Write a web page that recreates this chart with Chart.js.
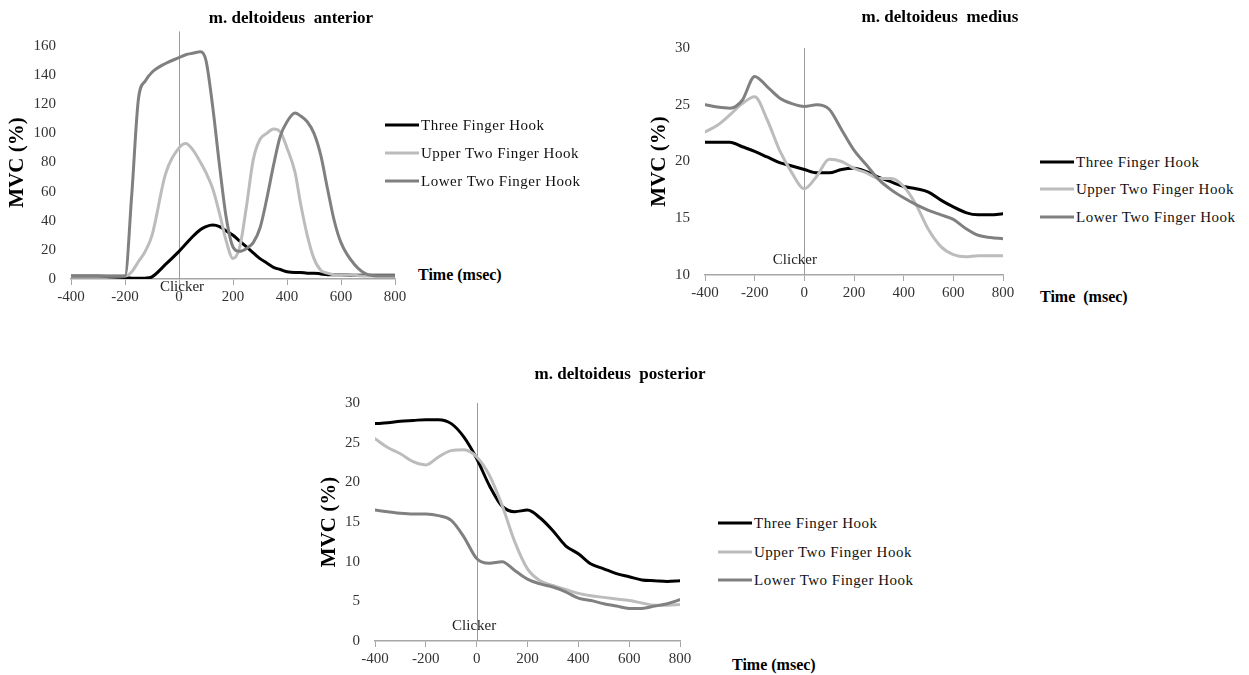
<!DOCTYPE html>
<html><head><meta charset="utf-8">
<script src="https://cdn.jsdelivr.net/npm/chart.js@4.4.1/dist/chart.umd.min.js"></script>
<style>
html,body{margin:0;padding:0;background:#fff;}
body{width:1249px;height:675px;position:relative;overflow:hidden;font-family:"Liberation Serif","Times New Roman",serif;color:#000;}
canvas{position:absolute;}
.title{position:absolute;font-weight:bold;font-size:17px;transform:translate(-50%,-50%);white-space:pre;}
.row{position:absolute;display:flex;align-items:center;white-space:nowrap;transform:translateY(-50%);font-size:15px;letter-spacing:0.5px;color:#111;}
.sw{width:34px;height:3px;margin-right:2px;}
.xt{position:absolute;font-weight:bold;font-size:16px;transform:translateY(-50%);white-space:pre;}
</style></head><body>
<canvas id="cA" width="410" height="310" style="left:0px;top:0px"></canvas>
<canvas id="cB" width="380" height="310" style="left:640px;top:0px"></canvas>
<canvas id="cC" width="390" height="315" style="left:310px;top:360px"></canvas>
<div id="overlay"></div>
<script>
// ---------- data ----------
const seriesNames = ['Three Finger Hook', 'Upper Two Finger Hook', 'Lower Two Finger Hook'];
const chartTitles = ['m. deltoideus  anterior', 'm. deltoideus  medius', 'm. deltoideus  posterior'];
const xAxisLabels = ['Time (msec)', 'Time  (msec)', 'Time (msec)'];
const yAxisLabel = 'MVC (%)';
const markerLabel = 'Clicker';

// m. deltoideus anterior
const antTime  = [-400,-300,-250,-200,-175,-150,-125,-100,-50,0,25,50,80,100,125,150,175,200,225,250,275,300,325,350,375,400,430,450,475,500,525,550,575,600,650,700,750,800];
const antThree = [2,2,1.5,1,0.6,0.5,0.6,1.5,10,19,24,29,34,36,37,36,33,30,26,22,18,14,11,8,6.5,5,4.5,4.5,4,4,3.5,3,3,3,2.5,2.5,2.5,2.5];
const antUpper = [2,2,2,2,5,12,19,30,72,90,93,89,80,73,62,45,26,14,22,50,82,96,100,103,101,90,73,52,30,14,6,4,3,3,2.5,2,2,2];
const antLower = [2,2,2,2,58,124,136,142,148,152,154,155,156,150,118,78,42,22,19,21,25,35,55,78,98,108,114,112,108,100,85,62,40,25,10,3,2,2];

// m. deltoideus medius
const medTime  = [-400,-350,-300,-250,-200,-150,-100,-50,0,50,100,150,200,250,300,350,400,450,500,550,600,650,700,750,800];
const medThree = [21.7,21.7,21.7,21.3,20.9,20.4,19.9,19.6,19.3,19.0,19.0,19.3,19.4,19.1,18.6,18.2,17.8,17.6,17.3,16.6,16.0,15.5,15.3,15.3,15.4];
const medUpper = [22.6,23.2,24.1,25.1,25.7,23.7,21.0,19.0,17.6,18.7,20.2,20.0,19.4,19.0,18.5,18.5,17.8,16.2,14.0,12.5,11.8,11.6,11.7,11.7,11.7];
const medLower = [25.0,24.8,24.7,25.4,27.5,26.6,25.6,25.1,24.85,25.0,24.6,22.8,21.0,19.7,18.4,17.5,16.8,16.2,15.7,15.3,14.9,14.1,13.5,13.3,13.2];

// m. deltoideus posterior
const posTime  = [-400,-350,-300,-250,-200,-150,-100,-50,0,50,100,150,200,250,300,350,400,450,500,550,600,650,700,750,800];
const posThree = [27.4,27.5,27.7,27.8,27.9,27.9,27.4,25.7,23.0,19.6,17.0,16.3,16.5,15.5,13.9,12.0,11.0,9.7,9.1,8.5,8.1,7.7,7.6,7.5,7.6];
const posUpper = [25.5,24.4,23.6,22.6,22.2,23.2,24.0,24.1,23.2,20.9,17.1,12.5,9.1,7.6,7.0,6.5,6.0,5.7,5.5,5.3,5.1,4.8,4.5,4.5,4.6];
const posLower = [16.5,16.3,16.1,16.0,16.0,15.8,15.2,13.1,10.4,9.8,10.0,8.9,7.8,7.2,6.8,6.2,5.4,5.1,4.7,4.4,4.1,4.1,4.4,4.7,5.2];

// ---------- styling ----------
const seriesColors = ['#000000', '#bcbcbc', '#808080'];
const FONT = '"Liberation Serif", "Times New Roman", serif';
const AXIS_GRAY = '#a6a6a6';

const clickerPlugin = {
  id: 'clicker',
  beforeDatasetsDraw(chart, args, o) {
    const {ctx, chartArea, scales: {x, y}} = chart;
    const px = Math.round(x.getPixelForValue(o.at)) + 0.5;
    ctx.save();
    ctx.strokeStyle = '#9a9a9a';
    ctx.lineWidth = 1;
    ctx.beginPath();
    ctx.moveTo(px, y.getPixelForValue(o.top));
    ctx.lineTo(px, chartArea.bottom);
    ctx.stroke();
    ctx.restore();
  },
  afterDatasetsDraw(chart, args, o) {
    const {ctx, scales: {x, y}} = chart;
    ctx.save();
    ctx.font = '15px ' + FONT;
    ctx.fillStyle = '#222';
    ctx.textAlign = 'center';
    ctx.textBaseline = 'middle';
    ctx.fillText(markerLabel, x.getPixelForValue(o.labelX), y.getPixelForValue(o.labelY));
    ctx.restore();
  }
};

function makeChart(id, times, series, yCfg, lay) {
  const datasets = series.map((vals, i) => ({
    label: seriesNames[i],
    data: times.map((t, k) => ({x: t, y: vals[k]})),
    borderColor: seriesColors[i],
    backgroundColor: seriesColors[i],
    borderWidth: 3,
    pointRadius: 0,
    cubicInterpolationMode: 'monotone',
    fill: false,
    borderCapStyle: 'round',
    borderJoinStyle: 'round'
  })).reverse();
  return new Chart(document.getElementById(id), {
    type: 'line',
    data: {datasets},
    plugins: [clickerPlugin],
    options: {
      responsive: false,
      animation: false,
      devicePixelRatio: 1,
      layout: {padding: lay.pad},
      plugins: {
        legend: {display: false},
        tooltip: {enabled: false},
        clicker: lay.clicker
      },
      scales: {
        x: {
          type: 'linear', min: -400, max: 800,
          ticks: {stepSize: 200, color: '#333', font: {family: FONT, size: 15}, padding: 3, maxRotation: 0},
          grid: {display: true, drawOnChartArea: false, drawTicks: true, tickLength: 6, color: AXIS_GRAY, lineWidth: 1},
          border: {display: true, color: AXIS_GRAY, width: 1.5},
          afterFit: s => { s.height = lay.xh; }
        },
        y: {
          min: yCfg.min, max: yCfg.max,
          ticks: {stepSize: yCfg.step, color: '#333', font: {family: FONT, size: 15}, padding: 15},
          grid: {display: false, drawTicks: false},
          border: {display: false},
          title: {display: true, text: yAxisLabel, color: '#000', font: {family: FONT, size: 21, weight: 'bold'}, padding: {top: lay.ytPad, bottom: 0}},
          afterFit: s => { s.width = lay.yw; }
        }
      }
    }
  });
}

makeChart('cA', antTime, [antThree, antUpper, antLower], {min: 0, max: 160, step: 20},
  {pad: {left: 0, top: 46, right: 15, bottom: 0}, xh: 31, yw: 71, ytPad: 5,
   clicker: {at: 0, top: 170, labelX: 11, labelY: -5.5}});
makeChart('cB', medTime, [medThree, medUpper, medLower], {min: 10, max: 30, step: 5},
  {pad: {left: 0, top: 48, right: 17, bottom: 0}, xh: 35, yw: 65, ytPad: 7,
   clicker: {at: 0, top: 30, labelX: -38, labelY: 11.3}});
makeChart('cC', posTime, [posThree, posUpper, posLower], {min: 0, max: 30, step: 5},
  {pad: {left: 0, top: 43, right: 20, bottom: 0}, xh: 34, yw: 65, ytPad: 7,
   clicker: {at: 0, top: 30, labelX: -10, labelY: 1.9}});

// ---------- titles, legends, axis labels (HTML text) ----------
const overlay = document.getElementById('overlay');
const panels = [
  {title: [291, 18], legX: 385, legY: [125, 153, 181], xt: [418, 275]},
  {title: [940, 17], legX: 1040, legY: [162, 189, 217], xt: [1040, 297]},
  {title: [620, 374], legX: 718, legY: [523, 552, 580], xt: [732, 665]}
];
panels.forEach((p, pi) => {
  const t = document.createElement('div');
  t.className = 'title';
  t.style.left = p.title[0] + 'px'; t.style.top = p.title[1] + 'px';
  t.textContent = chartTitles[pi];
  overlay.appendChild(t);
  seriesNames.forEach((n, i) => {
    const r = document.createElement('div');
    r.className = 'row';
    r.style.left = p.legX + 'px'; r.style.top = p.legY[i] + 'px';
    const sw = document.createElement('span');
    sw.className = 'sw'; sw.style.background = seriesColors[i];
    const tx = document.createElement('span');
    tx.textContent = n;
    r.appendChild(sw); r.appendChild(tx);
    overlay.appendChild(r);
  });
  const xt = document.createElement('div');
  xt.className = 'xt';
  xt.style.left = p.xt[0] + 'px'; xt.style.top = p.xt[1] + 'px';
  xt.textContent = xAxisLabels[pi];
  overlay.appendChild(xt);
});
</script>
</body></html>
